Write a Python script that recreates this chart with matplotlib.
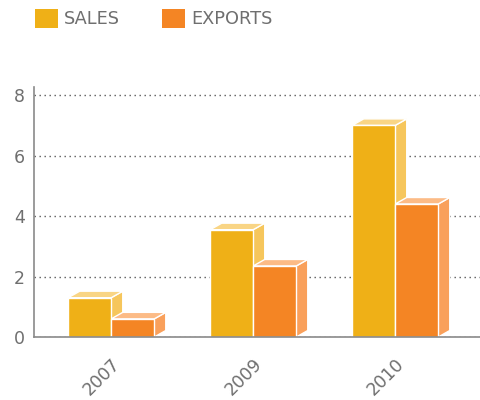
import numpy as np
import matplotlib.pyplot as plt
from matplotlib.patches import Patch

years = ["2007", "2009", "2010"]
sales = [1.3, 3.55, 7.0]
exports = [0.6, 2.35, 4.4]

# colores: frente, lado, tapa
col_sales = ("#EFB017", "#F6C65C", "#F9D585")
col_exports = ("#F48524", "#F9A05B", "#FCBB86")
texto = "#6f6f6f"

fig = plt.figure(figsize=(4.8, 4), dpi=100)
ax = fig.add_axes([34/480, 63/400, 446/480, 250/400])
ax.set_xlim(-0.544, 2.597)
ax.set_ylim(0, 8.27)

# profundidad del efecto 3D en pixeles -> unidades de datos
px_x = 446 / (2.597 + 0.544)
px_y = 250 / 8.27
dx = 11.5 / px_x
dy = 6.5 / px_y
w = 0.303

def barras_3d(valores, desplazamiento, colores):
    frente, lado, tapa = colores
    for i, v in enumerate(valores):
        x0 = i + desplazamiento
        ax.fill([x0 + w, x0 + w + dx, x0 + w + dx, x0 + w],
                [0, dy, v + dy, v], color=lado, ec="white", lw=1, zorder=2)
        ax.fill([x0, x0 + dx, x0 + w + dx, x0 + w],
                [v, v + dy, v + dy, v], color=tapa, ec="white", lw=1, zorder=2)
        ax.bar(x0, v, w, align="edge", color=frente, ec="white", lw=1, zorder=3)

barras_3d(sales, -w, col_sales)
barras_3d(exports, 0.0, col_exports)

ax.set_axisbelow(True)
ax.set_yticks([0, 2, 4, 6, 8])
ax.yaxis.grid(True, color="#5a5a5a", lw=1, dashes=(1, 2.6))
ax.set_xticks(range(len(years)))
ax.set_xticklabels(years, rotation=45, ha="right", rotation_mode="anchor")
ax.tick_params(length=0, labelsize=12.5, colors=texto)
ax.tick_params(axis="y", pad=6.5)
ax.tick_params(axis="x", pad=13)

for s in ["top", "right"]:
    ax.spines[s].set_visible(False)
for s in ["left", "bottom"]:
    ax.spines[s].set_color("#8a8a8a")
    ax.spines[s].set_linewidth(1.2)
    ax.spines[s].set_zorder(5)

handles = [Patch(facecolor=col_sales[0]), Patch(facecolor=col_exports[0])]
fig.legend(handles, ["SALES", "EXPORTS"], loc="upper left",
           bbox_to_anchor=(35/480, 1 - 8.5/400), ncol=2, frameon=False,
           fontsize=12.8, labelcolor=texto, handlelength=1.3, handleheight=1.3,
           handletextpad=0.35, columnspacing=2.35, borderpad=0, borderaxespad=0)

fig.savefig("out.png", dpi=100)
